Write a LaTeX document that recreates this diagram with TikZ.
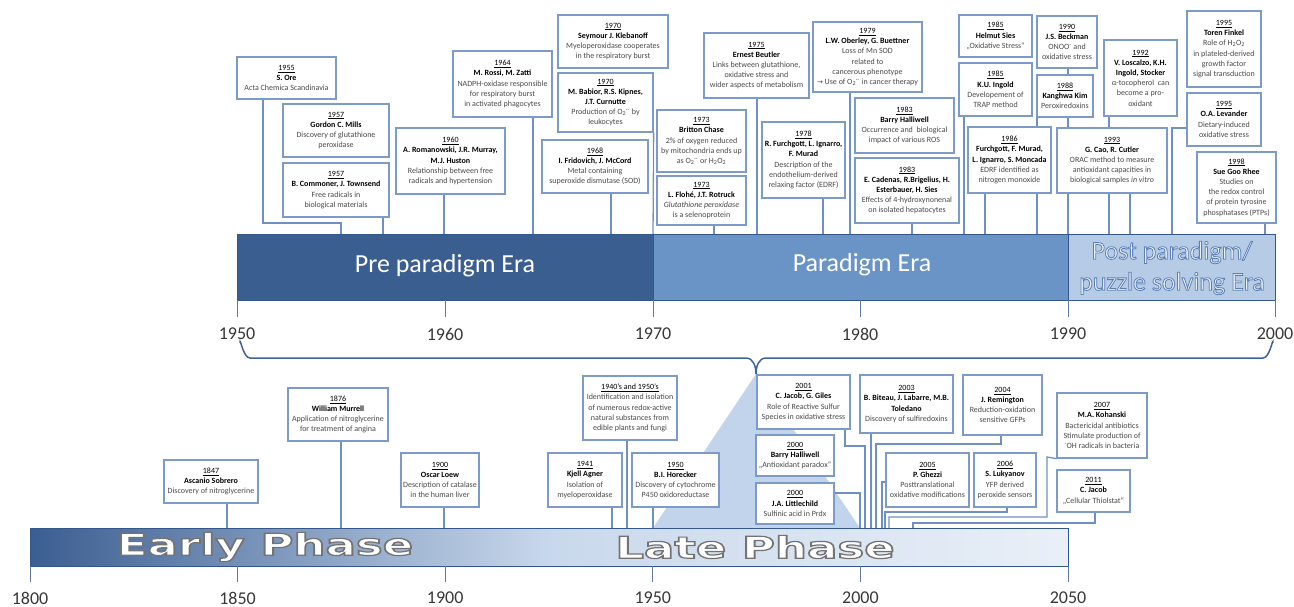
\documentclass[tikz,border=0pt]{standalone}
\usepackage{fontspec}
\setmainfont{Carlito}
\newfontfamily\dejab{DejaVu Sans}
\newfontfamily\symf{DejaVu Sans}
\usetikzlibrary{backgrounds}
\definecolor{dkblue}{HTML}{3B5E91}
\definecolor{mdblue}{HTML}{6A93C6}
\definecolor{ltblue}{HTML}{B6CBE5}
\definecolor{boxline}{HTML}{7D9BC8}
\definecolor{conline}{HTML}{6F90C2}
\definecolor{trifill}{HTML}{C2D4EB}
\definecolor{bracecol}{HTML}{3E6398}
\definecolor{desc}{HTML}{4A4A4A}
\definecolor{axistxt}{HTML}{383838}
\definecolor{barline}{HTML}{34568A}
\definecolor{postfill}{HTML}{EAF0F8}
\tikzset{
  evbox/.style={draw=boxline, line width=1.3pt, fill=white, inner sep=0pt, align=center,
    font=\fontsize{8}{10.2}\selectfont, text=desc},
  conn/.style={draw=conline, line width=1.3pt},
  ticks/.style={draw=barline!80, line width=0.9pt},
  axlabel/.style={font=\fontsize{18}{18}\selectfont, text=axistxt, inner sep=0pt},
  eratext/.style={font=\fontsize{26}{31}\selectfont, text=white, inner sep=0pt, align=center},
  phasetext/.style={font=\dejab\bfseries\fontsize{30}{30}\selectfont, inner sep=0pt},
}
% outlined text: #1 line width, #2 stroke rgb, #3 text
\newcommand\outl[3]{{\special{pdf:literal direct 2 Tr #1 w #2 RG}#3\special{pdf:literal direct 0 Tr}}}
\newcommand\yr[1]{\textcolor{black}{\underline{#1}}}
\newcommand\nm[1]{\textcolor{black}{\textbf{#1}}}
\newcommand\sox{O\textsubscript{2}\textsuperscript{·-}}
\newcommand\hoo{H\textsubscript{2}O\textsubscript{2}}
\newcommand\ev[6]{\node[evbox, minimum width={(#4-#2)*1pt}, minimum height={(#5-#3)*1pt}] (#1) at ({(#2+#4)/2},{(#3+#5)/2}) {#6};}
\begin{document}
\begin{tikzpicture}[x=1pt,y=-1pt]
\useasboundingbox (0,0) rectangle (1294,607);

% ---------- top boxes ----------
\ev{ore}{237}{57}{336}{99}{\yr{1955}\\\nm{S. Ore}\\Acta Chemica Scandinavia}
\ev{mills}{283}{104}{389}{157}{\yr{1957}\\\nm{Gordon C. Mills}\\Discovery of glutathione\\peroxidase}
\ev{commoner}{283}{163}{389}{217}{\yr{1957}\\\nm{B. Commoner, J. Townsend}\\Free radicals in\\biological materials}
\ev{roman}{396}{128}{505}{194}{\yr{1960}\\\nm{A. Romanowski, J.R. Murray,}\\\nm{M.J. Huston}\\Relationship between free\\radicals and hypertension}
\ev{rossi}{453}{51}{552}{117}{\yr{1964}\\\nm{M. Rossi, M. Zatti}\\NADPH-oxidase responsible\\for respiratory burst\\in activated phagocytes}
\ev{kleb}{558}{15}{668}{68}{\yr{1970}\\\nm{Seymour J. Klebanoff}\\Myeloperoxidase cooperates\\in the respiratory burst}
\ev{babior}{558}{73}{653}{132}{\yr{1970}\\\nm{M. Babior, R.S. Kipnes,}\\\nm{J.T. Curnutte}\\Production of \sox{} by\\leukocytes}
\ev{frid}{542}{140}{648}{193}{\yr{1968}\\\nm{I. Fridovich, J. McCord}\\Metal containing\\superoxide dismutase (SOD)}
\ev{chase}{657}{110}{746}{172}{\yr{1973}\\\nm{Britton Chase}\\2\% of oxygen reduced\\by mitochondria ends up\\as \sox{} or \hoo}
\ev{flohe}{657}{176}{746}{225}{\yr{1973}\\\nm{L. Flohé, J.T. Rotruck}\\\textit{Glutathione peroxidase}\\is a selenoprotein}
\ev{beutler}{704}{33}{809}{98}{\yr{1975}\\\nm{Ernest Beutler}\\Links between glutathione,\\oxidative stress and\\wider aspects of metabolism}
\ev{furch}{762}{122}{845}{198}{\yr{1978}\\\nm{R. Furchgott, L. Ignarro,}\\\nm{F. Murad}\\Description of the\\endothelium-derived\\relaxing factor (EDRF)}
\ev{oberley}{813}{22}{922}{92}{\yr{1979}\\\nm{L.W. Oberley, G. Buettner}\\Loss of Mn SOD\\related to\\cancerous phenotype\\{\symf\fontsize{7}{8}\selectfont →} Use of \sox{} in cancer therapy}
\ev{halli83}{855}{98}{954}{153}{\yr{1983}\\\nm{Barry Halliwell}\\Occurrence and~ biological\\impact of various ROS}
\ev{cadenas}{855}{158}{959}{223}{\yr{1983}\\\nm{E. Cadenas, R.Brigelius, H.}\\\nm{Esterbauer, H. Sies}\\Effects of 4-hydroxynonenal\\on isolated hepatocytes}
\ev{sies}{959}{15}{1032}{57}{\yr{1985}\\\nm{Helmut Sies}\\„Oxidative Stress“}
\ev{ingold}{959}{63}{1032}{116}{\yr{1985}\\\nm{K.U. Ingold}\\Developement of\\TRAP method}
\ev{fm86}{968}{127}{1051}{193}{\yr{1986}\\\nm{Furchgott, F. Murad,}\\\nm{L. Ignarro, S. Moncada}\\EDRF identified as\\nitrogen monoxide}
\ev{beckman}{1037}{16}{1097}{68}{\yr{1990}\\\nm{J.S. Beckman}\\ONOO\textsuperscript{-} and\\oxidative stress}
\ev{kim}{1037}{75}{1093}{117}{\yr{1988}\\\nm{Kanghwa Kim}\\Peroxiredoxins}
\ev{loscalzo}{1104}{40}{1177}{116}{\yr{1992}\\\nm{V. Loscalzo, K.H.}\\\nm{Ingold, Stocker}\\α-tocopherol~ can\\become a pro-\\oxidant}
\ev{cao}{1057}{128}{1167}{193}{\yr{1993}\\\nm{G. Cao, R. Cutler}\\ORAC method to measure\\antioxidant capacities in\\biological samples \textit{in vitro}}
\ev{finkel}{1187}{11}{1261}{87}{\yr{1995}\\\nm{Toren Finkel}\\Role of \hoo\\in plateled-derived\\growth factor\\signal transduction}
\ev{levander}{1187}{93}{1261}{146}{\yr{1995}\\\nm{O.A. Levander}\\Dietary-induced\\oxidative stress}
\ev{rhee}{1197}{152}{1276}{223}{\yr{1998}\\\nm{Sue Goo Rhee}\\Studies on\\the redox control\\of protein tyrosine\\phosphatases (PTPs)}

% ---------- bottom boxes ----------
\ev{sobrero}{164}{460}{258}{503}{\yr{1847}\\\nm{Ascanio Sobrero}\\Discovery of nitroglycerine}
\ev{murrell}{288}{388}{388}{441}{\yr{1876}\\\nm{William Murrell}\\Application of nitroglycerine\\for treatment of angina}
\ev{loew}{401}{453}{479}{507}{\yr{1900}\\\nm{Oscar Loew}\\Description of catalase\\in the human liver}
\ev{agner}{548}{453}{622}{507}{\yr{1941}\\\nm{Kjell Agner}\\Isolation of\\myeloperoxidase}
\ev{bfifty}{583}{376}{677}{440}{\yr{1940’s and 1950’s}\\Identification and isolation\\of numerous redox-active\\natural substances from\\edible plants and fungi}
\ev{horecker}{632}{453}{719}{507}{\yr{1950}\\\nm{B.I. Horecker}\\Discovery of cytochrome\\P450 oxidoreductase}
\ev{jacob01}{757}{375}{850}{429}{\yr{2001}\\\nm{C. Jacob, G. Giles}\\Role of Reactive Sulfur\\Species in oxidative stress}
\ev{halli00}{756}{435}{834}{476}{\yr{2000}\\\nm{Barry Halliwell}\\„Antioxidant paradox“}
\ev{little}{756}{483}{834}{524}{\yr{2000}\\\nm{J.A. Littlechild}\\Sulfinic acid in Prdx}
\ev{biteau}{860}{375}{953}{433}{\yr{2003}\\\nm{B. Biteau, J. Labarre, M.B.}\\\nm{Toledano}\\Discovery of sulfiredoxins}
\ev{remington}{963}{375}{1042}{435}{\yr{2004}\\\nm{J. Remington}\\Reduction-oxidation\\sensitive GFPs}
\ev{ghezzi}{886}{453}{969}{507}{\yr{2005}\\\nm{P. Ghezzi}\\Posttranslational\\oxidative modifications}
\ev{lukyanov}{974}{453}{1036}{507}{\yr{2006}\\\nm{S. Lukyanov}\\YFP derived\\peroxide sensors}
\ev{kohanski}{1057}{393}{1147}{458}{\yr{2007}\\\nm{M.A. Kohanski}\\Bactericidal antibiotics\\Stimulate production of\\\textsuperscript{·}OH radicals in bacteria}
\ev{jacob11}{1057}{470}{1130}{512}{\yr{2011}\\\nm{C. Jacob}\\„Cellular Thiolstat“}

% ---------- coordinates ----------
\coordinate (c55) at (341,236); \coordinate (k55) at (263,223);
\coordinate (c57) at (383,236);
\coordinate (c60) at (444,236);
\coordinate (c64) at (533,236);
\coordinate (c68) at (611,236);
\coordinate (c70) at (653,236);
\coordinate (c73) at (714,236);
\coordinate (c75) at (757,236);
\coordinate (c78) at (823,236);
\coordinate (c79) at (850,236);
\coordinate (c83) at (912,236);
\coordinate (c85) at (964,236);
\coordinate (c86) at (985,236);
\coordinate (c88) at (1037,236);
\coordinate (c90) at (1068,236);
\coordinate (c92) at (1109,236);
\coordinate (c93) at (1130,236);
\coordinate (k95) at (1172,128); \coordinate (c95) at (1172,236);
\coordinate (c98) at (1265,236);

\coordinate (b1847) at (227,530);
\coordinate (b1876) at (341,530);
\coordinate (b1900) at (444,530);
\coordinate (b1941) at (612,530);
\coordinate (b1945) at (627,530);
\coordinate (b1950) at (653,530);
\coordinate (j1) at (845,446); \coordinate (b2001) at (865,530);
\coordinate (l1) at (860,493); \coordinate (b2000) at (860,530);
\coordinate (b2003) at (871,530);
\coordinate (r1) at (1001,444); \coordinate (b2004) at (876,530);
\coordinate (g1) at (882,482); \coordinate (b2005) at (882,530);
\coordinate (u1) at (1007,512); \coordinate (b2006) at (885,530);
\coordinate (h1) at (1047,457); \coordinate (h2) at (1047,517); \coordinate (b2007) at (889,530);
\coordinate (j2) at (1095,523); \coordinate (b2011) at (913,530);

\begin{pgfonlayer}{background}
  % zoom triangle
  \fill[trifill] (756,374) -- (653,528) -- (860,528) -- cycle;
  % top connectors
  \draw[conn] (ore.south -| k55) -- (k55) -| (c55);
  \draw[conn] (commoner.south -| c57) -- (c57);
  \draw[conn] (roman.south -| c60) -- (c60);
  \draw[conn] (rossi.south -| c64) -- (c64);
  \draw[conn] (frid.south -| c68) -- (c68);
  \draw[conn] (babior.south east) -- (c70);
  \draw[conn] (flohe.south -| c73) -- (c73);
  \draw[conn] (beutler.south -| c75) -- (c75);
  \draw[conn] (furch.south -| c78) -- (c78);
  \draw[conn] (oberley.south -| c79) -- (c79);
  \draw[conn] (cadenas.south -| c83) -- (c83);
  \draw[conn] (ingold.south -| c85) -- (c85);
  \draw[conn] (fm86.south -| c86) -- (c86);
  \draw[conn] (kim.south -| c88) -- (c88);
  \draw[conn] (beckman.south -| c90) -- (c90);
  \draw[conn] (loscalzo.south -| c92) -- (c92);
  \draw[conn] (cao.south -| c93) -- (c93);
  \draw[conn] (levander.west |- k95) -- (k95) -- (c95);
  \draw[conn] (rhee.south -| c98) -- (c98);
  % bottom connectors
  \draw[conn] (sobrero.south -| b1847) -- (b1847);
  \draw[conn] (murrell.south -| b1876) -- (b1876);
  \draw[conn] (loew.south -| b1900) -- (b1900);
  \draw[conn] (agner.south -| b1941) -- (b1941);
  \draw[conn] (bfifty.south -| b1945) -- (b1945);
  \draw[conn] (horecker.south -| b1950) -- (b1950);
  \draw[conn] (jacob01.south -| j1) -- (j1) -| (b2001);
  \draw[conn] (little.east |- l1) -- (l1) -- (b2000);
  \draw[conn] (biteau.south -| b2003) -- (b2003);
  \draw[conn] (remington.south -| r1) -- (r1) -| (b2004);
  \draw[conn] (ghezzi.west |- g1) -- (g1) -- (b2005);
  \draw[conn] (lukyanov.south -| u1) -- (u1) -| (b2006);
  \draw[conn] (kohanski.south west) -- (h1) -- (h2) -| (b2007);
  \draw[conn] (jacob11.south -| j2) -- (j2) -| (b2011);
\end{pgfonlayer}

% ---------- top era bar ----------
\fill[dkblue] (237,234) rectangle (653,300);
\fill[mdblue] (653,234) rectangle (1068,300);
\fill[ltblue] (1068,234) rectangle (1275,300);
\draw[barline, line width=1pt] (237,234) rectangle (1275,300);
\draw[barline, line width=1pt] (653,234) -- (653,300) (1068,234) -- (1068,300);
\node[eratext] (pre) at (445,266) {Pre paradigm Era};
\node[eratext] (para) at (862,265) {Paradigm Era};
\node[eratext, text=postfill] (post) at (1172,268) {\outl{0.8}{0.36 0.5 0.71}{Post paradigm/}\\\outl{0.8}{0.36 0.5 0.71}{puzzle solving Era}};

% top axis
\foreach \xv/\yv in {237/1950, 445/1960, 653/1970, 860/1980, 1068/1990, 1275/2000} {
  \draw[ticks] (\xv,300) -- (\xv,317);
  \node[axlabel] (ty\yv) at (\xv,334) {\yv};
}

% brace
\draw[bracecol, line width=1.5pt] (240,343) to[out=90,in=180] (250,358) -- (746,358)
   to[out=0,in=90] (756,374) to[out=90,in=180] (766,358) -- (1263,358) to[out=0,in=90] (1273,343);

% ---------- bottom phase bar ----------
\shade[left color=dkblue, right color=ltblue!30!white, middle color=ltblue!75!white] (30,528) rectangle (1068,566);
\draw[barline, line width=1pt] (30,528) rectangle (1068,566);
\node[phasetext, text=white] (early) at (265,547) {\scalebox{1.5}[1]{\outl{1.2}{0.45 0.45 0.45}{Early Phase}}};
\node[phasetext, text=white] (late) at (755,547) {\scalebox{1.5}[1]{\outl{1.2}{0.45 0.45 0.45}{Late Phase}}};

\foreach \xv/\yv in {30/1800, 237.6/1850, 445.2/1900, 652.8/1950, 860.4/2000, 1068/2050} {
  \draw[ticks] (\xv,566) -- (\xv,582);
  \node[axlabel] (by\yv) at (\xv,598) {\yv};
}
\end{tikzpicture}
\end{document}
